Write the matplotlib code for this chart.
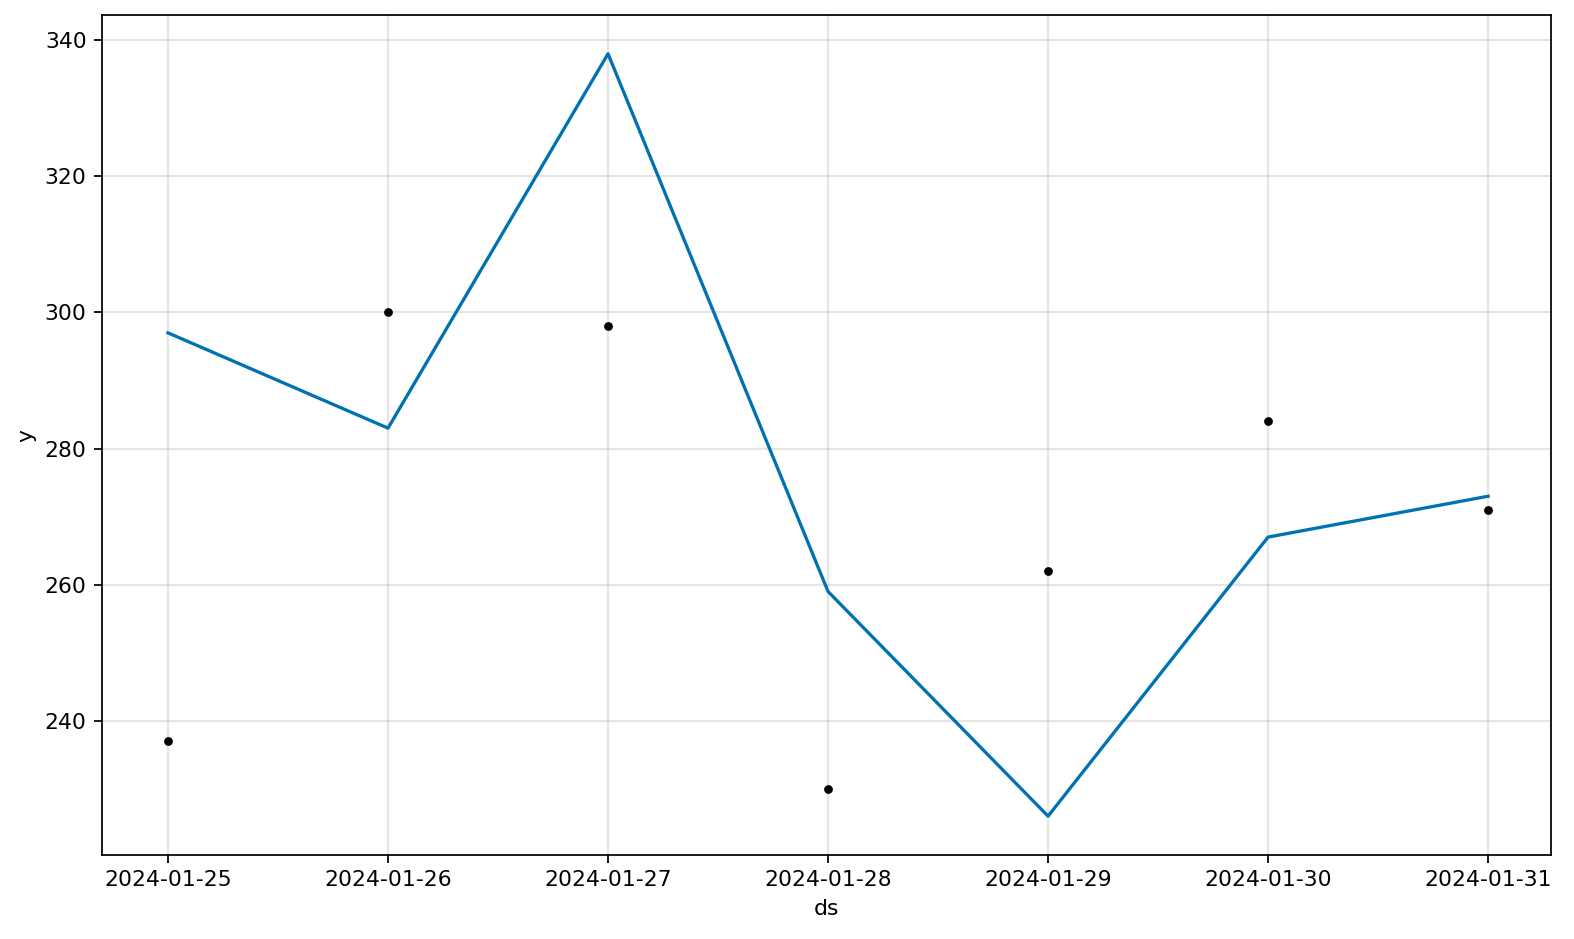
import matplotlib
matplotlib.use("Agg")
import matplotlib.pyplot as plt
import pandas as pd

dates = ["2024-01-25","2024-01-26","2024-01-27","2024-01-28","2024-01-29","2024-01-30","2024-01-31"]
y_obs = [237, 300, 298, 230, 262, 284, 271]
yhat = [297, 283, 338, 259, 226, 267, 273]

ds = pd.to_datetime(dates)
fig = plt.figure(figsize=(10, 5.966), dpi=157.4)
ax = fig.add_subplot(111)
ax.plot(ds, y_obs, 'k.')
ax.plot(ds, yhat, ls='-', c='#0072B2')
ax.grid(True, which='major', c='gray', ls='-', lw=1, alpha=0.2)
ax.set_xlabel('ds')
ax.set_ylabel('y')
ax.set_xticks(ds)
ax.set_xticklabels(dates)
ax.set_xlim(ds[0] - pd.Timedelta(days=0.3), ds[-1] + pd.Timedelta(days=0.286))
ax.set_ylim(220.3, 343.7)
fig.subplots_adjust(left=0.0648, right=0.9854, top=0.984, bottom=0.0895)
fig.savefig("out.png")
